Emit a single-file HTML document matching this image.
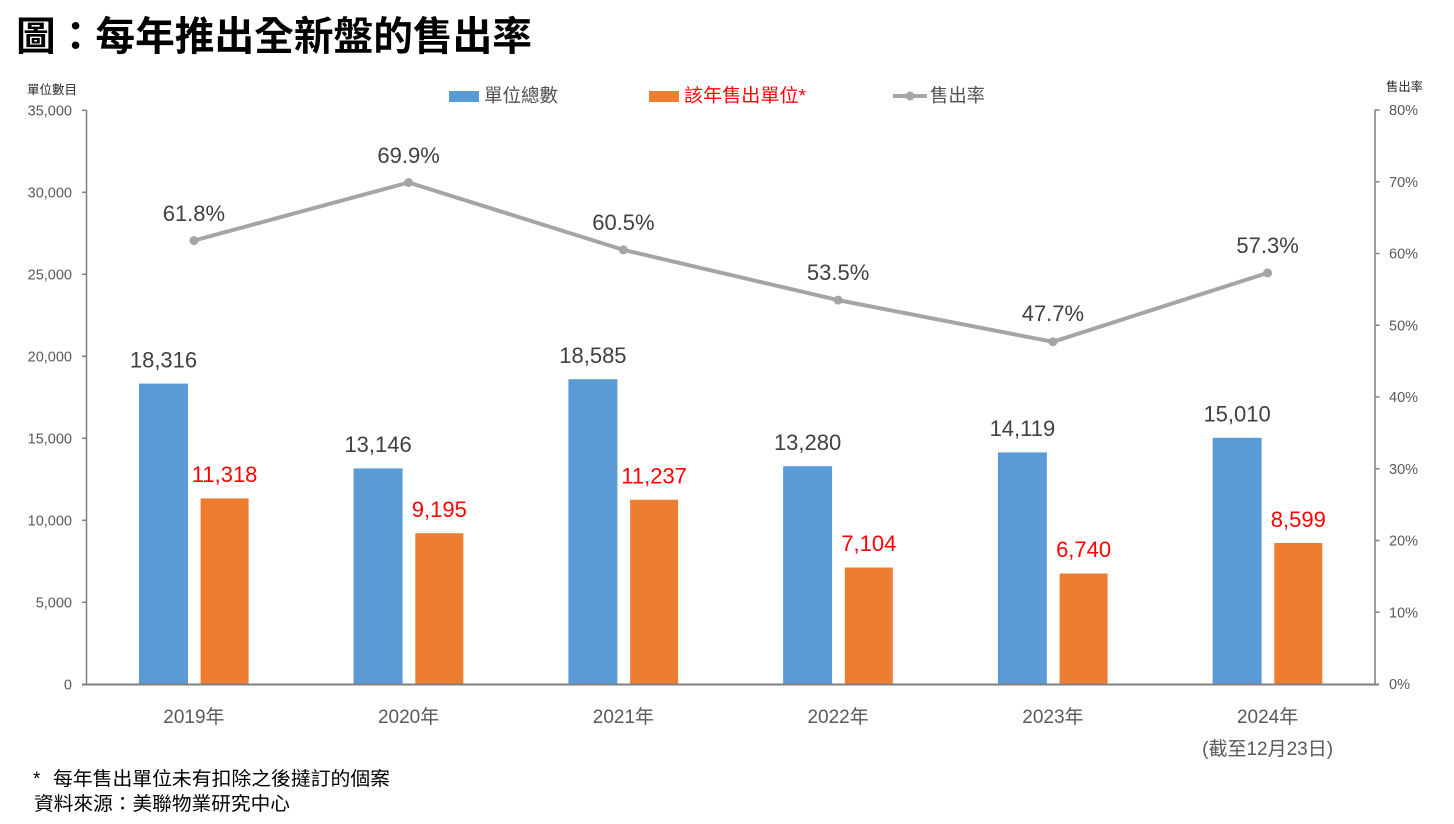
<!DOCTYPE html>
<html>
<head>
<meta charset="utf-8">
<style>
  html, body { margin:0; padding:0; background:#ffffff; }
  body { width:1454px; height:824px; overflow:hidden; }
  svg { display:block; }
  .cjk { font-family: "Liberation Sans", "Noto Sans CJK TC", sans-serif; }
  .num { font-family: "Liberation Sans", "Noto Sans CJK TC", sans-serif; }
</style>
</head>
<body>
<svg width="1454" height="824" viewBox="0 0 1454 824" xmlns="http://www.w3.org/2000/svg">
  <rect x="0" y="0" width="1454" height="824" fill="#ffffff"/>

  <!-- Title -->
  <text x="16" y="50" class="cjk" font-size="40" font-weight="700" fill="#000" textLength="516" lengthAdjust="spacingAndGlyphs">圖：每年推出全新盤的售出率</text>

  <!-- Axis titles -->
  <text x="27" y="94" class="cjk" font-size="12.5" fill="#262626" textLength="50" lengthAdjust="spacingAndGlyphs">單位數目</text>
  <text x="1386" y="91" class="cjk" font-size="12.5" fill="#262626" textLength="37" lengthAdjust="spacingAndGlyphs">售出率</text>

  <!-- Legend -->
  <rect x="449" y="91" width="30" height="11" fill="#5b9bd5"/>
  <text x="484" y="102" class="cjk" font-size="18.5" fill="#505050" textLength="74" lengthAdjust="spacingAndGlyphs">單位總數</text>
  <rect x="649" y="91" width="30" height="11" fill="#ed7d31"/>
  <text x="684" y="102" class="cjk" font-size="18.5" fill="#ff0000" textLength="122" lengthAdjust="spacingAndGlyphs">該年售出單位*</text>
  <line x1="893" y1="96" x2="927" y2="96" stroke="#a5a5a5" stroke-width="4"/>
  <circle cx="910" cy="96" r="4.5" fill="#a5a5a5"/>
  <text x="930" y="102" class="cjk" font-size="18.5" fill="#505050" textLength="55" lengthAdjust="spacingAndGlyphs">售出率</text>

  <!-- Axes & ticks -->
  <g stroke="#7f7f7f" stroke-width="1.5">
    <line x1="86.5" y1="110" x2="86.5" y2="684.5"/>
    <line x1="82" y1="110.3" x2="86.5" y2="110.3"/>
    <line x1="82" y1="192.3" x2="86.5" y2="192.3"/>
    <line x1="82" y1="274.3" x2="86.5" y2="274.3"/>
    <line x1="82" y1="356.3" x2="86.5" y2="356.3"/>
    <line x1="82" y1="438.3" x2="86.5" y2="438.3"/>
    <line x1="82" y1="520.3" x2="86.5" y2="520.3"/>
    <line x1="82" y1="602.3" x2="86.5" y2="602.3"/>
    <line x1="1375" y1="110" x2="1375" y2="684.5"/>
    <line x1="1375" y1="110" x2="1379.5" y2="110"/>
    <line x1="1375" y1="181.75" x2="1379.5" y2="181.75"/>
    <line x1="1375" y1="253.5" x2="1379.5" y2="253.5"/>
    <line x1="1375" y1="325.25" x2="1379.5" y2="325.25"/>
    <line x1="1375" y1="397" x2="1379.5" y2="397"/>
    <line x1="1375" y1="468.75" x2="1379.5" y2="468.75"/>
    <line x1="1375" y1="540.5" x2="1379.5" y2="540.5"/>
    <line x1="1375" y1="612.25" x2="1379.5" y2="612.25"/>
  </g>
  <g class="num" font-size="14.5" fill="#595959" text-anchor="end">
    <text x="72" y="115.5">35,000</text>
    <text x="72" y="197.5">30,000</text>
    <text x="72" y="279.5">25,000</text>
    <text x="72" y="361.5">20,000</text>
    <text x="72" y="443.5">15,000</text>
    <text x="72" y="525.5">10,000</text>
    <text x="72" y="607.5">5,000</text>
    <text x="72" y="689.5">0</text>
  </g>
  <g class="num" font-size="14.5" fill="#595959">
    <text x="1389" y="115.2">80%</text>
    <text x="1389" y="187">70%</text>
    <text x="1389" y="258.7">60%</text>
    <text x="1389" y="330.5">50%</text>
    <text x="1389" y="402.2">40%</text>
    <text x="1389" y="474">30%</text>
    <text x="1389" y="545.7">20%</text>
    <text x="1389" y="617.5">10%</text>
    <text x="1389" y="689.2">0%</text>
  </g>

  <!-- Bars -->
  <g fill="#5b9bd5">
    <rect x="139" y="383.6" width="49" height="300.4"/>
    <rect x="353.6" y="468.4" width="49" height="215.6"/>
    <rect x="568.4" y="379.2" width="49" height="304.8"/>
    <rect x="783.1" y="466.2" width="49" height="217.8"/>
    <rect x="997.9" y="452.4" width="49" height="231.6"/>
    <rect x="1212.6" y="437.8" width="49" height="246.2"/>
  </g>
  <g fill="#ed7d31">
    <rect x="200.6" y="498.4" width="48" height="185.6"/>
    <rect x="415.3" y="533.2" width="48" height="150.8"/>
    <rect x="630.1" y="499.7" width="48" height="184.3"/>
    <rect x="844.8" y="567.5" width="48" height="116.5"/>
    <rect x="1059.6" y="573.5" width="48" height="110.5"/>
    <rect x="1274.3" y="543.0" width="48" height="141.0"/>
  </g>

  <!-- Bottom axis -->
  <line x1="82" y1="684.5" x2="1379" y2="684.5" stroke="#7f7f7f" stroke-width="2"/>

  <!-- Bar labels -->
  <g class="num" font-size="22" fill="#404040" text-anchor="middle">
    <text x="163.5" y="367.5">18,316</text>
    <text x="378.1" y="452">13,146</text>
    <text x="592.9" y="363">18,585</text>
    <text x="807.6" y="450">13,280</text>
    <text x="1022.4" y="436">14,119</text>
    <text x="1237.1" y="421.5">15,010</text>
  </g>
  <g class="num" font-size="22" fill="#ff0000" text-anchor="middle">
    <text x="224.6" y="482">11,318</text>
    <text x="439.3" y="517">9,195</text>
    <text x="654.1" y="483.5">11,237</text>
    <text x="868.8" y="551">7,104</text>
    <text x="1083.6" y="557">6,740</text>
    <text x="1298.3" y="527">8,599</text>
  </g>

  <!-- Line series -->
  <polyline points="193.9,240.6 408.6,182.5 623.4,249.9 838.1,300.1 1052.9,341.8 1267.6,272.9" fill="none" stroke="#a5a5a5" stroke-width="4" stroke-linejoin="round"/>
  <g fill="#a5a5a5">
    <circle cx="193.9" cy="240.6" r="4.5"/>
    <circle cx="408.6" cy="182.5" r="4.5"/>
    <circle cx="623.4" cy="249.9" r="4.5"/>
    <circle cx="838.1" cy="300.1" r="4.5"/>
    <circle cx="1052.9" cy="341.8" r="4.5"/>
    <circle cx="1267.6" cy="272.9" r="4.5"/>
  </g>
  <g class="num" font-size="22" fill="#404040" text-anchor="middle">
    <text x="193.9" y="221">61.8%</text>
    <text x="408.6" y="163">69.9%</text>
    <text x="623.4" y="230">60.5%</text>
    <text x="838.1" y="280">53.5%</text>
    <text x="1052.9" y="321">47.7%</text>
    <text x="1267.6" y="253">57.3%</text>
  </g>

  <!-- Category labels -->
  <g class="cjk" font-size="19" fill="#595959" text-anchor="middle">
    <text x="193.9" y="723">2019年</text>
    <text x="408.6" y="723">2020年</text>
    <text x="623.4" y="723">2021年</text>
    <text x="838.1" y="723">2022年</text>
    <text x="1052.9" y="723">2023年</text>
    <text x="1267.6" y="723">2024年</text>
    <text x="1267.6" y="755">(截至12月23日)</text>
  </g>

  <!-- Footnotes -->
  <text x="33" y="785" class="cjk" font-size="19" fill="#000">*</text>
  <text x="53" y="785" class="cjk" font-size="19" fill="#000" textLength="337" lengthAdjust="spacingAndGlyphs">每年售出單位未有扣除之後撻訂的個案</text>
  <text x="34" y="810" class="cjk" font-size="19" fill="#000" textLength="256" lengthAdjust="spacingAndGlyphs">資料來源：美聯物業研究中心</text>
</svg>
</body>
</html>
